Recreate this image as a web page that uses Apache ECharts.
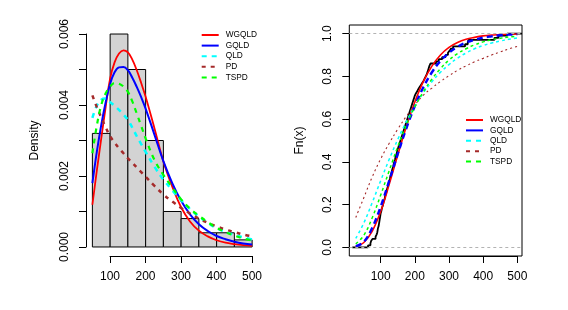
<!DOCTYPE html>
<html><head><meta charset="utf-8">
<script src="https://cdn.jsdelivr.net/npm/echarts@6/dist/echarts.min.js"></script>
<style>html,body{margin:0;padding:0;background:#fff}#c{width:568px;height:310px}</style>
</head><body><div id="c"></div>
<script>
// ---------- data ----------
const seriesNames = ['WGQLD','GQLD','QLD','PD','TSPD'];
const binEdges = [50,100,150,200,250,300,350,400,450,500];
const binDensity = [0.0032,0.0060,0.0050,0.0030,0.0010,0.0008,0.0004,0.0004,0.0002];

const densX = [50,62.5,75,87.5,100,112.5,125,137.5,150,162.5,175,187.5,200,225,250,275,300,325,350,375,400,425,450,475,500];
const pdfWGQLD = [0.00119,0.00215,0.00306,0.00395,0.00475,0.00520,0.00545,0.00554,0.00548,0.00528,0.00498,0.00462,0.00423,0.00334,0.00241,0.00170,0.00112,0.00072,0.00046,0.00030,0.00019,0.00012,0.00008,0.00005,0.00003];
const pdfGQLD  = [0.00180,0.00268,0.00344,0.00408,0.00460,0.00492,0.00506,0.00507,0.00498,0.00477,0.00451,0.00422,0.00390,0.00316,0.00242,0.00180,0.00130,0.00092,0.00064,0.00045,0.00031,0.00022,0.00015,0.00010,0.00007];
const pdfQLD   = [0.00364,0.00398,0.00415,0.00418,0.00408,0.00398,0.00386,0.00373,0.00358,0.00336,0.00312,0.00290,0.00268,0.00226,0.00190,0.00160,0.00132,0.00107,0.00086,0.00068,0.00053,0.00043,0.00034,0.00027,0.00021];
const pdfPD    = [0.00427,0.00394,0.00365,0.00337,0.00312,0.00294,0.00278,0.00264,0.00250,0.00237,0.00224,0.00211,0.00198,0.00172,0.00148,0.00128,0.00110,0.00094,0.00080,0.00068,0.00058,0.00049,0.00042,0.00035,0.00030];
const pdfTSPD  = [0.00264,0.00342,0.00400,0.00433,0.00452,0.00462,0.00460,0.00452,0.00437,0.00410,0.00376,0.00341,0.00306,0.00245,0.00203,0.00168,0.00134,0.00108,0.00088,0.00070,0.00054,0.00042,0.00032,0.00024,0.00018];

const cdfX = [27,50,75,100,125,150,175,200,225,250,275,300,325,350,375,400,425,450,475,500];
const cdfWGQLD = [0.004,0.022,0.075,0.168,0.295,0.432,0.564,0.680,0.776,0.848,0.900,0.935,0.958,0.973,0.982,0.989,0.993,0.995,0.997,0.998];
const cdfGQLD  = [0.006,0.025,0.091,0.191,0.312,0.437,0.556,0.661,0.749,0.819,0.872,0.910,0.938,0.958,0.971,0.981,0.987,0.992,0.995,0.997];
const cdfQLD   = [0.042,0.112,0.209,0.312,0.412,0.505,0.588,0.661,0.723,0.775,0.819,0.855,0.885,0.909,0.929,0.944,0.956,0.965,0.973,0.979];
const cdfPD    = [0.140,0.230,0.329,0.414,0.487,0.553,0.613,0.666,0.712,0.745,0.776,0.803,0.828,0.849,0.868,0.884,0.900,0.914,0.928,0.940];
const cdfTSPD  = [0.017,0.055,0.138,0.245,0.359,0.471,0.572,0.657,0.728,0.787,0.836,0.876,0.906,0.929,0.947,0.961,0.971,0.978,0.984,0.988];

// observed sample (for the empirical CDF)
const sample = [63,70,72,76,85,88,90,91,92,94,95,96,97,98,99,100,
  102,103,105,107,108,110,112,113,115,117,118,120,122,123,125,127,128,130,132,133,135,137,138,140,142,143,145,147,148,150,
  152,154,156,158,160,162,164,166,168,170,172,174,176,178,180,182,184,186,188,190,192,194,196,198,200,
  203,207,210,214,218,222,226,229,232,235,237,239,241,243,246,
  262,270,280,290,297,
  302,306,312,347,
  355,357,
  433,445,
  470];

const xTickLabels = ['100','200','300','400','500'];
const yTickLabelsLeft = ['0.000','0.002','0.004','0.006'];
const yTickLabelsRight = ['0.0','0.2','0.4','0.6','0.8','1.0'];

// ---------- build ----------
const FONT = 'Liberation Sans, Arial, Helvetica, sans-serif';
const pair = (xs, ys) => xs.map((x, i) => [x, ys[i]]);

function ecdfPoints(vals, x0, x1) {
  const s = vals.slice().sort((a, b) => a - b);
  const n = s.length;
  const pts = [[x0, 0]];
  for (let i = 0; i < n; i++) {
    if (i < n - 1 && s[i + 1] === s[i]) continue;
    pts.push([s[i], (i + 1) / n]);
  }
  pts.push([x1, 1]);
  return pts;
}

const LX0 = 32, LX1 = 518, LY0 = -0.00024, LY1 = 0.00624;
const RX0 = 8.1, RX1 = 513.8, RY0 = -0.04, RY1 = 1.04;

const leftStyles = {
  WGQLD: {color:'#ff0000', width:1.8, type:'solid'},
  GQLD:  {color:'#0000ff', width:2,   type:'solid'},
  QLD:   {color:'#00ffff', width:2.5, type:[5,5]},
  PD:    {color:'#a52a2a', width:2.5, type:[4,5]},
  TSPD:  {color:'#00ff00', width:2.2, type:[5,5]}
};
const rightStyles = {
  WGQLD: {color:'#ff0000', width:1.6, type:'solid'},
  GQLD:  {color:'#0000ff', width:2.4, type:[6,4]},
  QLD:   {color:'#00ffff', width:1.5, type:[3,3]},
  PD:    {color:'#a52a2a', width:1.1, type:[2,3]},
  TSPD:  {color:'#00ff00', width:1.5, type:[3,3]}
};
const pdfs = {WGQLD:pdfWGQLD, GQLD:pdfGQLD, QLD:pdfQLD, PD:pdfPD, TSPD:pdfTSPD};
const cdfs = {WGQLD:cdfWGQLD, GQLD:cdfGQLD, QLD:cdfQLD, PD:cdfPD, TSPD:cdfTSPD};

function curve(name, xs, ys, st, xi, yi) {
  return {
    type:'line', name, xAxisIndex:xi, yAxisIndex:yi, data:pair(xs, ys),
    smooth:0.4, symbol:'none', showSymbol:false,
    lineStyle:{color:st.color, width:st.width, type:st.type},
    itemStyle:{color:st.color}, silent:true, z:3
  };
}

const series = [];
series.push({
  type:'custom', xAxisIndex:0, yAxisIndex:0, silent:true, z:1,
  data: binDensity.map((d, i) => [binEdges[i], binEdges[i + 1], d]),
  encode:{x:[0, 1], y:2},
  renderItem(params, api) {
    const p0 = api.coord([api.value(0), 0]);
    const p1 = api.coord([api.value(1), api.value(2)]);
    return {type:'rect', shape:{x:p0[0], y:p1[1], width:p1[0] - p0[0], height:p0[1] - p1[1]},
      style:{fill:'#d3d3d3', stroke:'#000', lineWidth:1}};
  }
});
seriesNames.forEach(n => series.push(curve(n, densX, pdfs[n], leftStyles[n], 0, 0)));

series.push({
  type:'line', name:'ecdf', xAxisIndex:3, yAxisIndex:3, data:ecdfPoints(sample, 17, RX1),
  step:'end', symbol:'none', lineStyle:{color:'#000', width:1.8}, silent:true, z:2,
  markLine:{silent:true, symbol:'none', label:{show:false},
    lineStyle:{color:'#b3b3b3', type:[3,3], width:1},
    data:[{yAxis:0},{yAxis:1}]}
});
seriesNames.forEach(n => series.push(curve(n, cdfX, cdfs[n], rightStyles[n], 3, 3)));

const hidden = {show:false};
const axLine = {show:true, lineStyle:{color:'#000', width:1}};
const axTick = {show:true, length:7, lineStyle:{color:'#000', width:1}};
const lab = {color:'#000', fontSize:12, fontFamily:FONT, lineHeight:12};

const option = {
  animation:false,
  backgroundColor:'#fff',
  grid:[
    {left:86, top:25.5, width:172.5, height:230},                         // 0 left data
    {left:110, top:25.5, width:142, height:230.5},                        // 1 left x axis
    {left:86, top:34, width:172.5, height:213},                           // 2 left y axis
    {left:349.3, top:25, width:172.7, height:231, show:true, borderColor:'#000', borderWidth:1}, // 3 right data
    {left:380.7, top:25, width:136.6, height:231},                        // 4 right x axis
    {left:349.3, top:33.7, width:172.7, height:213.6}                     // 5 right y axis
  ],
  xAxis:[
    {gridIndex:0, type:'value', min:LX0, max:LX1, ...hidden},
    {gridIndex:1, type:'value', min:100, max:500, interval:100, axisLine:axLine, axisTick:axTick,
      splitLine:{show:false}, axisLabel:{...lab, margin:15, formatter:(v, i) => xTickLabels[i]}},
    {gridIndex:2, type:'value', min:0, max:1, ...hidden},
    {gridIndex:3, type:'value', min:RX0, max:RX1, ...hidden},
    {gridIndex:4, type:'value', min:100, max:500, interval:100, axisLine:axLine, axisTick:axTick,
      splitLine:{show:false}, axisLabel:{...lab, margin:15, formatter:(v, i) => xTickLabels[i]}},
    {gridIndex:5, type:'value', min:0, max:1, ...hidden}
  ],
  yAxis:[
    {gridIndex:0, type:'value', min:LY0, max:LY1, ...hidden},
    {gridIndex:1, type:'value', min:0, max:1, ...hidden},
    {gridIndex:2, type:'value', min:0, max:0.006, interval:0.001, axisLine:axLine, axisTick:axTick,
      splitLine:{show:false},
      axisLabel:{...lab, rotate:90, margin:15, formatter:(v, i) => (i % 2 === 0 ? yTickLabelsLeft[i / 2] : '')},
      name:'Density', nameLocation:'middle', nameRotate:90, nameGap:45,
      nameTextStyle:{color:'#000', fontSize:12, fontFamily:FONT, lineHeight:12}},
    {gridIndex:3, type:'value', min:RY0, max:RY1, ...hidden},
    {gridIndex:4, type:'value', min:0, max:1, ...hidden},
    {gridIndex:5, type:'value', min:0, max:1, interval:0.2, axisLine:axLine, axisTick:axTick,
      splitLine:{show:false},
      axisLabel:{...lab, rotate:90, margin:16, formatter:(v, i) => yTickLabelsRight[i]},
      name:'Fn(x)', nameLocation:'middle', nameRotate:90, nameGap:44,
      nameTextStyle:{color:'#000', fontSize:12, fontFamily:FONT, lineHeight:12}}
  ],
  legend:[
    {data:seriesNames, orient:'vertical', left:200.7, top:31, padding:0, itemWidth:17, itemHeight:8, itemGap:2.6,
      selectedMode:false, itemStyle:{opacity:0},
      textStyle:{color:'#000', fontSize:8.3, fontFamily:FONT, lineHeight:8, padding:[0,0,0,2]}},
    {data:seriesNames, orient:'vertical', left:465, top:116, padding:0, itemWidth:17, itemHeight:8, itemGap:2.4,
      selectedMode:false, itemStyle:{opacity:0},
      textStyle:{color:'#000', fontSize:8.3, fontFamily:FONT, lineHeight:8, padding:[0,0,0,2]}}
  ],
  series
};

const chart = echarts.init(document.getElementById('c'), null, {renderer:'canvas'});
chart.setOption(option);
</script></body></html>
